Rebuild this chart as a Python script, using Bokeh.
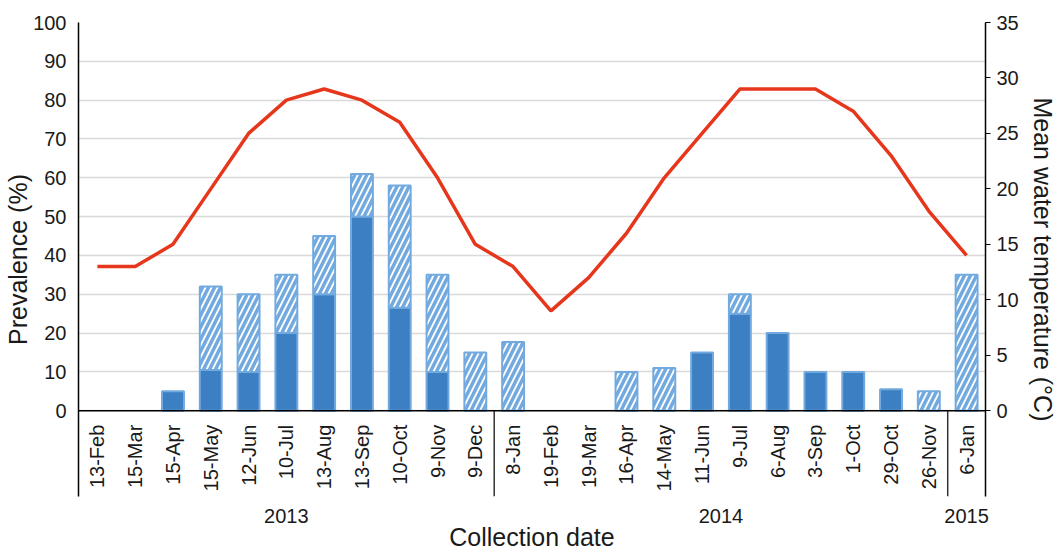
import numpy as np
from bokeh.plotting import figure
from bokeh.models import (Range1d, LinearAxis, FixedTicker, Span, ColumnDataSource,
                          CustomJSTickFormatter)
from bokeh.core.properties import value
from bokeh.embed import file_html
from bokeh.resources import INLINE

# ---------------- data ----------------
dates = ["13-Feb", "15-Mar", "15-Apr", "15-May", "12-Jun", "10-Jul", "13-Aug", "13-Sep",
         "10-Oct", "9-Nov", "9-Dec", "8-Jan", "19-Feb", "19-Mar", "16-Apr", "14-May",
         "11-Jun", "9-Jul", "6-Aug", "3-Sep", "1-Oct", "29-Oct", "26-Nov", "6-Jan"]
years = ["2013"] * 11 + ["2014"] * 12 + ["2015"]
prevalence_solid = [0, 0, 5, 10.5, 10, 20, 30, 50, 26.5, 10, 0, 0,
                    0, 0, 0, 0, 15, 25, 20, 10, 10, 5.5, 0, 0]
prevalence_total = [0, 0, 5, 32, 30, 35, 45, 61, 58, 35, 15, 17.7,
                    0, 0, 10, 11, 15, 30, 20, 10, 10, 5.5, 5, 35]
temperature = [13, 13, 15, 20, 25, 28, 29, 28, 26, 21, 15, 13,
               9, 12, 16, 21, 25, 29, 29, 29, 27, 23, 18, 14]
prev_ticks = [0, 10, 20, 30, 40, 50, 60, 70, 80, 90, 100]
temp_ticks = [0, 5, 10, 15, 20, 25, 30, 35]

# ---------------- style ----------------
FONT = "Liberation Sans"
TXT = "#1a1a1a"
SOLID = "#3c7fc2"
LIGHT = "#72aadf"
RED = "#e6361c"
Y_MIN = -22.1          # room below the baseline for the date labels
PREV_MAX = 100
TEMP_MAX = 35
BAR_W = 0.58

n = len(dates)
xpos = [i + 0.5 for i in range(n)]          # category slot centres

p = figure(width=1059, height=553,
           x_range=Range1d(0, n), y_range=Range1d(Y_MIN, PREV_MAX),
           output_backend="svg", toolbar_location=None,
           min_border_left=78, min_border_right=72, min_border_top=22, min_border_bottom=0)
p.outline_line_color = None
p.xgrid.visible = False
p.extra_y_ranges = {"temp": Range1d(Y_MIN * TEMP_MAX / PREV_MAX, TEMP_MAX)}

# grid
p.ygrid.ticker = FixedTicker(ticks=prev_ticks)
p.ygrid.grid_line_color = "#d9d9d9"
p.ygrid.grid_line_width = 1.5

# left axis
la = p.yaxis[0]
la.ticker = FixedTicker(ticks=prev_ticks)
la.axis_label = "Prevalence (%)"
la.major_tick_line_color = None
la.minor_tick_line_color = None
la.major_tick_out = 0
la.major_tick_in = 0
la.major_label_standoff = 12
la.axis_label_standoff = -2
la.axis_line_color = "black"
la.axis_line_width = 1.5
la.major_label_text_font = FONT
la.major_label_text_font_size = "20px"
la.major_label_text_color = TXT
la.axis_label_text_font = FONT
la.axis_label_text_font_size = "25px"
la.axis_label_text_font_style = "normal"
la.axis_label_text_color = TXT

# right axis
ra = LinearAxis(y_range_name="temp", ticker=FixedTicker(ticks=temp_ticks),
                axis_label="Mean water temperature (°C)")
ra.major_tick_out = 5
ra.major_tick_in = 0
ra.major_tick_line_color = "black"
ra.major_tick_line_width = 1.2
ra.minor_tick_line_color = None
ra.major_label_standoff = 6
ra.axis_label_standoff = 7
ra.axis_line_color = "black"
ra.axis_line_width = 1.5
ra.major_label_text_font = FONT
ra.major_label_text_font_size = "20px"
ra.major_label_text_color = TXT
ra.axis_label_text_font = FONT
ra.axis_label_text_font_size = "25px"
ra.axis_label_text_font_style = "normal"
ra.axis_label_text_color = TXT
p.add_layout(ra, "right")

# bottom axis: year group labels + title
year_order = []
for y in years:
    if y not in year_order:
        year_order.append(y)
year_pos = []
for y in year_order:
    idx = [i for i, yy in enumerate(years) if yy == y]
    year_pos.append((idx[0] + idx[-1] + 1) / 2)
ba = p.xaxis[0]
ba.ticker = FixedTicker(ticks=year_pos)
ba.formatter = CustomJSTickFormatter(
    args=dict(pos=year_pos, names=year_order),
    code="""
        for (let i = 0; i < pos.length; i++) {
            if (Math.abs(pos[i] - tick) < 1e-6) return names[i];
        }
        return "";
    """)
ba.axis_label = "Collection date"
ba.axis_line_color = None
ba.major_tick_line_color = None
ba.minor_tick_line_color = None
ba.major_tick_out = 0
ba.major_tick_in = 0
ba.major_label_standoff = 12
ba.axis_label_standoff = -3
ba.major_label_text_font = FONT
ba.major_label_text_font_size = "20px"
ba.major_label_text_color = TXT
ba.axis_label_text_font = FONT
ba.axis_label_text_font_size = "25px"
ba.axis_label_text_font_style = "normal"
ba.axis_label_text_color = TXT

# bars
solid_src = ColumnDataSource(dict(
    x=[x for x, s in zip(xpos, prevalence_solid) if s > 0],
    top=[s for s in prevalence_solid if s > 0]))
hatch_src = ColumnDataSource(dict(
    x=[x for x, s, t in zip(xpos, prevalence_solid, prevalence_total) if t > s],
    bottom=[s for s, t in zip(prevalence_solid, prevalence_total) if t > s],
    top=[t for s, t in zip(prevalence_solid, prevalence_total) if t > s]))
p.vbar(x="x", top="top", source=solid_src, width=BAR_W, fill_color=SOLID,
       line_color=LIGHT, line_width=2)
p.vbar(x="x", bottom="bottom", top="top", source=hatch_src, width=BAR_W,
       fill_color="white", hatch_pattern="/", hatch_color=LIGHT, hatch_weight=3.5,
       hatch_scale=12, line_color=LIGHT, line_width=2)

# temperature line
p.line(x=xpos, y=temperature, y_range_name="temp", line_color=RED, line_width=3.5)

# baseline
p.add_layout(Span(location=0, dimension="width", line_color="black", line_width=1.5))

# group separators below the baseline
sep_pos = [i for i in range(1, n) if years[i] != years[i - 1]]
p.segment(x0=sep_pos, y0=[0] * len(sep_pos), x1=sep_pos, y1=[Y_MIN] * len(sep_pos),
          line_color="#333333", line_width=1.5)

# date labels
p.text(x=xpos, y=[0] * n, text=dates, angle=np.pi / 2, y_offset=14,
       text_align="right", text_baseline="middle", text_font=value(FONT),
       text_font_size="20px", text_color=TXT)

open("out.html", "w").write(file_html(p, INLINE))
